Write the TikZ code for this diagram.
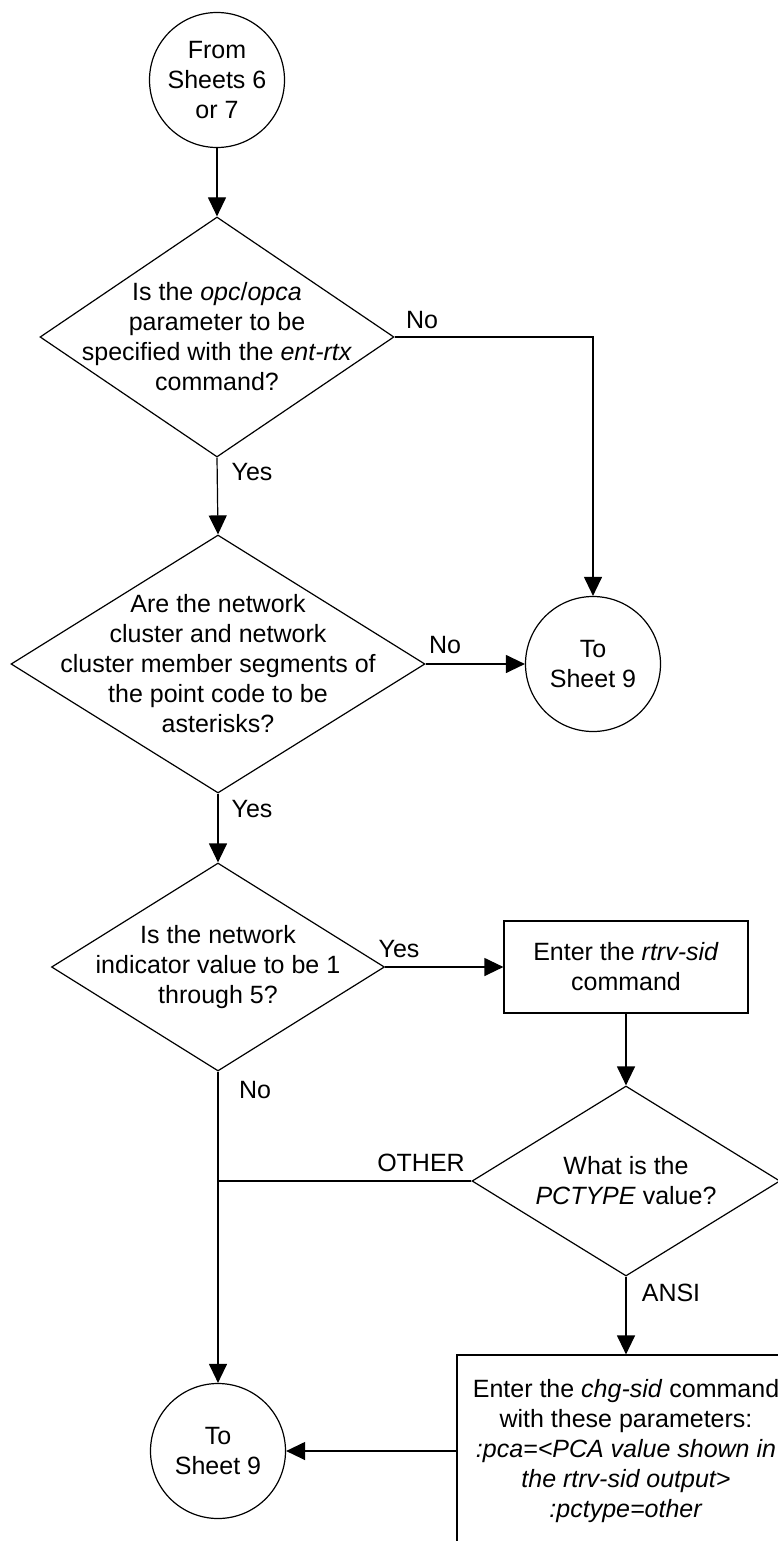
\documentclass[tikz,border=0pt]{standalone}
\usepackage{fontspec}
\setmainfont{Liberation Sans}
\usetikzlibrary{shapes.geometric,arrows.meta}
\begin{document}
\begin{tikzpicture}[x=1pt,y=-1pt,
  conn/.style={draw,line width=1.2pt},
  arr/.style={conn,-{Triangle[length=19pt,width=18pt]}},
  circ/.style={draw,circle,minimum size=135pt,inner sep=0pt,line width=1.2pt},
  dia/.style={draw,diamond,inner sep=0pt,line width=1.2pt},
  box/.style={draw,rectangle,inner sep=0pt,line width=1.2pt},
  txt/.style={align=center,inner sep=0pt,font=\fontsize{25}{30}\selectfont},
  lbl/.style={inner sep=0pt,font=\fontsize{25}{30}\selectfont}]
\useasboundingbox (0,0) rectangle (778,1541);
\clip (0,0) rectangle (778,1541);

% nodes
\node[circ,txt] (start) at (217,80) {From\\Sheets 6\\or 7};

\node[dia,minimum width=354pt,minimum height=240pt] (d1) at (217,337) {};
\node[txt] (t1) at (d1.center) {Is the \textit{opc}/\textit{opca}\\parameter to be\\specified with the \textit{ent-rtx}\\command?};

\node[dia,minimum width=414pt,minimum height=258pt] (d2) at (218,664) {};
\node[txt] (t2) at (d2.center) {Are the network\\cluster and network\\cluster member segments of\\the point code to be\\asterisks?};

\node[circ,txt] (c2) at (593,664) {To\\Sheet 9};

\node[dia,minimum width=333pt,minimum height=208pt] (d3) at (218,967) {};
\node[txt] (t3) at (d3.center) {Is the network\\indicator value to be 1\\through 5?};

\node[box,minimum width=244pt,minimum height=92pt] (r1) at (626,967) {};
\node[txt] (tr1) at (r1.center) {Enter the \textit{rtrv-sid}\\command};

\node[dia,minimum width=308pt,minimum height=190pt] (d4) at (626,1181) {};
\node[txt] (t4) at (d4.center) {What is the\\\textit{PCTYPE} value?};

\node[box,minimum width=338pt,minimum height=192pt] (r2) at (626,1451) {};
\node[txt] (tr2) at (r2.center) {Enter the \textit{chg-sid} command\\with these parameters:\\\textit{:pca=<PCA value shown in}\\\textit{the rtrv-sid output>}\\\textit{:pctype=other}};

\node[circ,txt] (c3) at (218,1451) {To\\Sheet 9};

\coordinate (k1) at (c2.north |- d1.east);
\coordinate (j) at (d3.south |- d4.west);

% connectors
\draw[arr] (start.south) -- (d1.north);
\draw[arr] (d1.east) -- (k1) -- (c2.north);
\draw[arr] (d1.south) -- (d2.north);
\draw[arr] (d2.east) -- (c2.west);
\draw[arr] (d2.south) -- (d3.north);
\draw[arr] (d3.east) -- (r1.west);
\draw[arr] (d3.south) -- (c3.north);
\draw[arr] (r1.south) -- (d4.north);
\draw[conn] (d4.west) -- (j);
\draw[arr] (d4.south) -- (r2.north);
\draw[arr] (r2.west) -- (c3.east);

% labels
\node[lbl] (l1) at (422,320) {No};
\node[lbl] (l2) at (252,472) {Yes};
\node[lbl] (l3) at (445,645) {No};
\node[lbl] (l4) at (252,809) {Yes};
\node[lbl] (l5) at (399,949) {Yes};
\node[lbl] (l6) at (255,1090) {No};
\node[lbl] (l7) at (421,1163) {OTHER};
\node[lbl] (l8) at (671,1293) {ANSI};
\end{tikzpicture}
\end{document}
